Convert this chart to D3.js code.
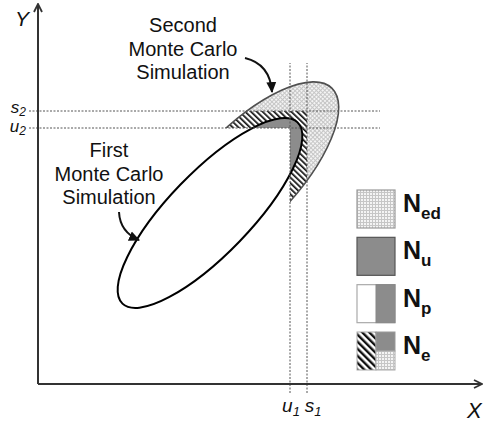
<!DOCTYPE html>
<html><head><meta charset="utf-8">
<script src="https://cdn.jsdelivr.net/npm/d3@7"></script>
<style>
html,body{margin:0;padding:0;background:#fff;}
svg{display:block;font-family:"Liberation Sans",Arial,sans-serif;}
</style></head>
<body>
<svg id="c" width="484" height="423"></svg>
<script>
// ---- data (plot units) ----
const xThresholdNames = ["u", "s"];
const xThresholdSubs = ["1", "1"];
const xThresholdValues = [252, 269];
const yThresholdNames = ["s", "u"];
const yThresholdSubs = ["2", "2"];
const yThresholdValues = [273, 256];

const ellipseNames = ["First", "Second"];
const ellipseCx = [172, 207];
const ellipseCy = [171, 206];
const ellipseRa = [126, 125];
const ellipseRb = [41, 49];
const ellipseAngle = [46, 46];

const annotationFirst = ["First", "Monte Carlo", "Simulation"];
const annotationSecond = ["Second", "Monte Carlo", "Simulation"];

const legendMain = ["N", "N", "N", "N"];
const legendSubs = ["ed", "u", "p", "e"];

const axisNames = ["X", "Y"];

// ---- scales ----
const x = d3.scaleLinear().domain([0, 445]).range([38, 483]);
const y = d3.scaleLinear().domain([0, 381]).range([384, 3]);
const u1 = xThresholdValues[0], s1 = xThresholdValues[1];
const s2 = yThresholdValues[0], u2 = yThresholdValues[1];

const svg = d3.select("#c");
const defs = svg.append("defs");

// patterns
const st = defs.append("pattern").attr("id","stipple").attr("patternUnits","userSpaceOnUse").attr("width",3).attr("height",3);
st.append("rect").attr("width",3).attr("height",3).attr("fill","#f4f4f4");
st.append("rect").attr("width",3).attr("height",1).attr("fill","#c6c6c6");
st.append("rect").attr("width",1).attr("height",3).attr("fill","#c6c6c6");

const vh = defs.append("pattern").attr("id","vhatch").attr("patternUnits","userSpaceOnUse").attr("width",4).attr("height",4);
vh.append("rect").attr("width",4).attr("height",4).attr("fill","#fff");
vh.append("rect").attr("width",1.7).attr("height",4).attr("fill","#111");

const dh = defs.append("pattern").attr("id","dhatch").attr("patternUnits","userSpaceOnUse").attr("width",5).attr("height",5).attr("patternTransform","rotate(-45)");
dh.append("rect").attr("width",5).attr("height",5).attr("fill","#fff");
dh.append("rect").attr("width",2.4).attr("height",5).attr("fill","#111");

// clip: outside u-box (x>u1 or y>u2)
const cu = defs.append("clipPath").attr("id","failU");
cu.append("rect").attr("x",x(u1)).attr("y",0).attr("width",484-x(u1)).attr("height",423);
cu.append("rect").attr("x",0).attr("y",0).attr("width",484).attr("height",y(u2));
const cs = defs.append("clipPath").attr("id","failS");
cs.append("rect").attr("x",x(s1)).attr("y",0).attr("width",484-x(s1)).attr("height",423);
cs.append("rect").attr("x",0).attr("y",0).attr("width",484).attr("height",y(s2));

// markers
defs.append("marker").attr("id","tri").attr("viewBox","0 0 10 10").attr("refX",9).attr("refY",5)
  .attr("markerUnits","userSpaceOnUse").attr("markerWidth",11).attr("markerHeight",11).attr("orient","auto")
  .append("path").attr("d","M0,0.5 L10,5 L0,9.5 Z").attr("fill","#111");
defs.append("marker").attr("id","open").attr("viewBox","0 0 10 10").attr("refX",9).attr("refY",5)
  .attr("markerUnits","userSpaceOnUse").attr("markerWidth",10).attr("markerHeight",10).attr("orient","auto")
  .append("path").attr("d","M1,1 L9,5 L1,9").attr("fill","none").attr("stroke","#333").attr("stroke-width",1.8);

function ell(sel, i){
  return sel.append("ellipse")
    .attr("cx", x(ellipseCx[i])).attr("cy", y(ellipseCy[i]))
    .attr("rx", x(ellipseRa[i]) - x(0)).attr("ry", y(0) - y(ellipseRb[i]))
    .attr("transform", `rotate(${-ellipseAngle[i]},${x(ellipseCx[i])},${y(ellipseCy[i])})`);
}

// second simulation region
ell(svg.append("g").attr("clip-path","url(#failU)"), 1).attr("fill","url(#vhatch)");
ell(svg.append("g").attr("clip-path","url(#failS)"), 1).attr("fill","url(#stipple)");
// first simulation region
ell(svg, 0).attr("fill","#fff");
ell(svg.append("g").attr("clip-path","url(#failU)"), 0).attr("fill","#8c8c8c");
// outlines
ell(svg.append("g").attr("clip-path","url(#failU)"), 1).attr("fill","none").attr("stroke","#505050").attr("stroke-width",1.6);
ell(svg, 0).attr("fill","none").attr("stroke","#000").attr("stroke-width",2);

// dotted threshold lines
xThresholdValues.forEach(v=>{
  svg.append("line").attr("x1",x(v)).attr("x2",x(v)).attr("y1",y(-9)).attr("y2",y(321))
    .attr("stroke","#555").attr("stroke-width",1).attr("stroke-dasharray","2,1.5");
});
yThresholdValues.forEach(v=>{
  svg.append("line").attr("x1",x(-9)).attr("x2",x(342)).attr("y1",y(v)).attr("y2",y(v))
    .attr("stroke","#555").attr("stroke-width",1).attr("stroke-dasharray","2,1.5");
});

// axes
svg.append("line").attr("x1",x(0)).attr("y1",y(0)).attr("x2",x(444)).attr("y2",y(0))
  .attr("stroke","#333").attr("stroke-width",2).attr("marker-end","url(#open)");
svg.append("line").attr("x1",x(0)).attr("y1",y(0)).attr("x2",x(0)).attr("y2",y(380))
  .attr("stroke","#333").attr("stroke-width",2).attr("marker-end","url(#open)");
svg.append("text").attr("x",467).attr("y",418).attr("font-size",22).attr("font-style","italic").attr("fill","#111").text(axisNames[0]);
svg.append("text").attr("x",15).attr("y",26).attr("font-size",21).attr("font-style","italic").attr("fill","#111").text(axisNames[1]);

// threshold labels
const xOff = [1, 6];
xThresholdValues.forEach((v,i)=>{
  const t = svg.append("text").attr("x",x(v)+xOff[i]).attr("y",412).attr("text-anchor","middle")
    .attr("font-size",19).attr("font-style","italic").attr("fill","#111");
  t.append("tspan").text(xThresholdNames[i]);
  t.append("tspan").attr("font-size",13).attr("dy",4).text(xThresholdSubs[i]);
});
const yOff = [2, 4];
yThresholdValues.forEach((v,i)=>{
  const t = svg.append("text").attr("x",26).attr("y",y(v)+yOff[i]).attr("text-anchor","end")
    .attr("font-size",17).attr("font-style","italic").attr("fill","#111");
  t.append("tspan").text(yThresholdNames[i]);
  t.append("tspan").attr("font-size",12).attr("dy",3).text(yThresholdSubs[i]);
});

// annotations
annotationSecond.forEach((s,i)=>{
  svg.append("text").attr("x",183).attr("y",32+i*23.5).attr("text-anchor","middle").attr("font-size",20).attr("fill","#111").text(s);
});
annotationFirst.forEach((s,i)=>{
  svg.append("text").attr("x",109).attr("y",157+i*23.5).attr("text-anchor","middle").attr("font-size",20).attr("fill","#111").text(s);
});
svg.append("path").attr("d","M245,58 Q270,64 272,92").attr("fill","none").attr("stroke","#111").attr("stroke-width",2).attr("marker-end","url(#tri)");
svg.append("path").attr("d","M119,212 Q120,232 139,240").attr("fill","none").attr("stroke","#111").attr("stroke-width",2).attr("marker-end","url(#tri)");

// legend
const ly = d3.scaleLinear().domain([0,3]).range([190,332]);
const bx = 357, bw = 38;
const g = svg.append("g");
g.append("rect").attr("x",bx).attr("y",ly(0)).attr("width",bw).attr("height",bw).attr("fill","url(#stipple)").attr("stroke","#999").attr("stroke-width",1.2);
g.append("rect").attr("x",bx).attr("y",ly(1)).attr("width",bw).attr("height",bw).attr("fill","#8c8c8c").attr("stroke","#555").attr("stroke-width",1.2);
g.append("rect").attr("x",bx).attr("y",ly(2)).attr("width",bw).attr("height",bw).attr("fill","#fff").attr("stroke","#aaa").attr("stroke-width",1.2);
g.append("rect").attr("x",bx+bw/2).attr("y",ly(2)).attr("width",bw/2).attr("height",bw).attr("fill","#8c8c8c").attr("stroke","#888").attr("stroke-width",1);
g.append("rect").attr("x",bx).attr("y",ly(3)).attr("width",bw/2).attr("height",bw).attr("fill","url(#dhatch)").attr("stroke","#aaa").attr("stroke-width",1);
g.append("rect").attr("x",bx+bw/2).attr("y",ly(3)).attr("width",bw/2).attr("height",bw/2).attr("fill","#8c8c8c").attr("stroke","#999").attr("stroke-width",1);
g.append("rect").attr("x",bx+bw/2).attr("y",ly(3)+bw/2).attr("width",bw/2).attr("height",bw/2).attr("fill","url(#stipple)").attr("stroke","#aaa").attr("stroke-width",1);
legendMain.forEach((m,i)=>{
  const t = g.append("text").attr("x",403).attr("y",ly(i)+22).attr("font-size",25).attr("font-weight","bold").attr("fill","#111");
  t.append("tspan").text(m);
  t.append("tspan").attr("font-size",17).attr("dy",7).text(legendSubs[i]);
});
</script>
</body></html>
